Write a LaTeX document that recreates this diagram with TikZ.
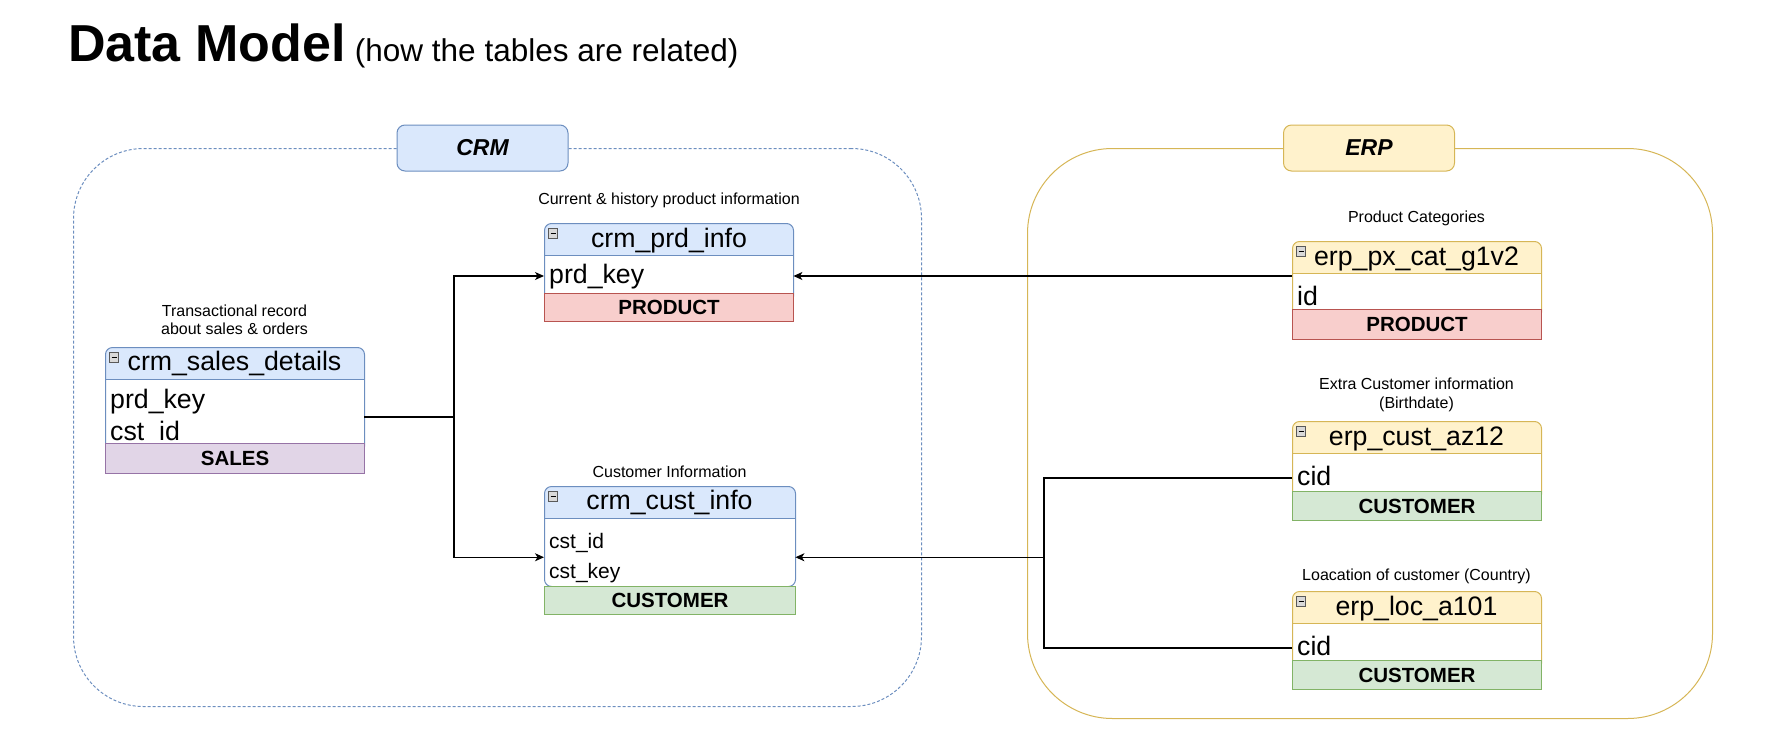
\documentclass[tikz,border=0pt]{standalone}
\usepackage{fontspec}
\setmainfont{Liberation Sans}
\usepackage{xcolor}
\usepackage{tikz}
\usetikzlibrary{positioning, calc, arrows.meta}

\definecolor{crmfill}{HTML}{DAE8FC}
\definecolor{crmline}{HTML}{6C8EBF}
\definecolor{erpfill}{HTML}{FFF2CC}
\definecolor{erpline}{HTML}{D6B656}
\definecolor{prodfill}{HTML}{F8CECC}
\definecolor{prodline}{HTML}{B85450}
\definecolor{custfill}{HTML}{D5E8D4}
\definecolor{custline}{HTML}{82B366}
\definecolor{salesfill}{HTML}{E1D5E7}
\definecolor{salesline}{HTML}{9673A6}

\begin{document}
\begin{tikzpicture}[x=1pt, y=-1pt,
    crmframe/.style={draw=crmline, line width=1pt, dash pattern=on 3pt off 2pt, rounded corners=70pt, anchor=north west, inner sep=0pt},
    erpframe/.style={draw=erpline, line width=1pt, rounded corners=85pt, anchor=north west, inner sep=0pt},
    tag/.style 2 args={draw=#2, fill=#1, line width=1pt, rounded corners=8pt, minimum width=171pt, minimum height=46pt, inner sep=0pt, font=\bfseries\itshape\fontsize{23}{26}\selectfont},
    caption/.style={inner sep=0pt, align=center, font=\fontsize{16}{18.5}\selectfont},
    tblbody/.style 2 args={draw=#1, fill=white, line width=1pt, rounded corners=7pt, anchor=north west, inner sep=0pt,
      path picture={\fill[#2, sharp corners] (path picture bounding box.north west) rectangle ([yshift=-32pt]path picture bounding box.north east);
        \draw[#1, line width=1.2pt, sharp corners] ([yshift=-32pt]path picture bounding box.north west) -- ([yshift=-32pt]path picture bounding box.north east);}},
    icon/.style={draw=gray!70!black, fill=gray!30, line width=0.6pt, minimum width=9pt, minimum height=10pt, inner sep=0pt,
      path picture={\draw[black, line width=1pt] ([xshift=2pt]path picture bounding box.west) -- ([xshift=-2pt]path picture bounding box.east);}},
    tbltitle/.style={anchor=base, inner sep=0pt, font=\fontsize{26.7}{30}\selectfont},
    field/.style={anchor=base west, inner xsep=5pt, inner ysep=0pt, align=left, text height=20pt, text depth=6pt, font=\fontsize{26.7}{30}\selectfont},
    smallfield/.style={text height=16pt, text depth=4.5pt, font=\fontsize{21}{24}\selectfont},
    footer/.style 2 args={draw=#2, fill=#1, line width=1pt, anchor=north west, inner sep=0pt, font=\bfseries\fontsize{20.5}{24}\selectfont},
    link/.style={line width=1.1pt, black},
    arrow/.style={link, -{Stealth[length=9pt, width=8pt, inset=2.5pt]}}]

\useasboundingbox (0,0) rectangle (1768,750);

% Title
\node[anchor=base west, inner sep=0pt, font=\bfseries\fontsize{52}{60}\selectfont] (title) at (68,61) {Data Model};
\node[anchor=base west, inner sep=0pt, font=\fontsize{31.5}{36}\selectfont] (subtitle) at ([xshift=9pt]title.base east) {(how the tables are related)};

% Frames
\node[crmframe, minimum width=848pt, minimum height=558pt] (crm) at (73,148) {};
\node[erpframe, minimum width=685pt, minimum height=570pt] (erp) at (1027,148) {};
\node[tag={crmfill}{crmline}] (crmtag) at (482.5,148) {CRM};
\node[tag={erpfill}{erpline}] (erptag) at (1369,148) {ERP};

% crm_prd_info
\node[caption] (prdcap) at (669,200) {Current \& history product information};
\node[tblbody={crmline}{crmfill}, minimum width=249pt, minimum height=80pt] (prd) at (544,223) {};
\node[icon] (prdicon) at (553,233) {};
\node[tbltitle] (prdtitle) at (669,247) {crm\_prd\_info};
\node[field, text width=239pt] (prdkey) at (544,283) {prd\_key};
\node[footer={prodfill}{prodline}, minimum width=249pt, minimum height=28pt] (prdfoot) at (544,293) {PRODUCT};

% crm_sales_details
\node[caption] (salescap) at (234.5,320) {Transactional record\\about sales \& orders};
\node[tblbody={crmline}{crmfill}, minimum width=259pt, minimum height=106pt] (sales) at (105,347) {};
\node[icon] (salesicon) at (114,357) {};
\node[tbltitle] (salestitle) at (234.5,370) {crm\_sales\_details};
\node[field, text width=249pt] (saleskey) at (105,408) {prd\_key};
\node[field, text width=249pt] (salesid) at (105,440) {cst\_id};
\node[footer={salesfill}{salesline}, minimum width=259pt, minimum height=30pt] (salesfoot) at (105,443) {SALES};

% crm_cust_info
\node[caption] (custcap) at (669.5,472) {Customer Information};
\node[tblbody={crmline}{crmfill}, minimum width=251pt, minimum height=100pt] (cust) at (544,486) {};
\node[icon] (custicon) at (553,496) {};
\node[tbltitle] (custtitle) at (669.5,509) {crm\_cust\_info};
\node[field, smallfield, text width=241pt] (custid) at (544,548) {cst\_id};
\node[field, smallfield, text width=241pt] (custkey) at (544,578) {cst\_key};
\node[footer={custfill}{custline}, minimum width=251pt, minimum height=28pt] (custfoot) at (544,586) {CUSTOMER};

% erp_px_cat_g1v2
\node[caption] (pxcap) at (1416.5,218) {Product Categories};
\node[tblbody={erpline}{erpfill}, minimum width=249pt, minimum height=78pt] (px) at (1292,241) {};
\node[icon] (pxicon) at (1301,251) {};
\node[tbltitle] (pxtitle) at (1416.5,265) {erp\_px\_cat\_g1v2};
\node[field, text width=239pt] (pxid) at (1292,305) {id};
\node[footer={prodfill}{prodline}, minimum width=249pt, minimum height=30pt] (pxfoot) at (1292,309) {PRODUCT};

% erp_cust_az12
\node[caption] (azcap) at (1416.5,395) {Extra Customer information\\(Birthdate)};
\node[tblbody={erpline}{erpfill}, minimum width=249pt, minimum height=80pt] (az) at (1292,421) {};
\node[icon] (azicon) at (1301,431) {};
\node[tbltitle] (aztitle) at (1416.5,445) {erp\_cust\_az12};
\node[field, text width=239pt] (azcid) at (1292,485) {cid};
\node[footer={custfill}{custline}, minimum width=249pt, minimum height=29pt] (azfoot) at (1292,491) {CUSTOMER};

% erp_loc_a101
\node[caption] (loccap) at (1416.5,576) {Loacation of customer (Country)};
\node[tblbody={erpline}{erpfill}, minimum width=249pt, minimum height=79pt] (loc) at (1292,591) {};
\node[icon] (locicon) at (1301,601) {};
\node[tbltitle] (loctitle) at (1416.5,615) {erp\_loc\_a101};
\node[field, text width=239pt] (loccid) at (1292,655) {cid};
\node[footer={custfill}{custline}, minimum width=249pt, minimum height=29pt] (locfoot) at (1292,660) {CUSTOMER};

% Connectors
\coordinate (salesout) at ($(saleskey.east)!0.5!(salesid.east)$);
\coordinate (salesbus) at (454,0 |- salesout);
\coordinate (custinL) at ($(custid.west)!0.5!(custkey.west)$);
\coordinate (custinR) at ($(custid.east)!0.5!(custkey.east)$);
\coordinate (erpbus) at (1044,0 |- custinR);

\draw[link] (salesout) -- (salesbus);
\draw[arrow] (salesbus) |- (prdkey.west);
\draw[arrow] (salesbus) |- (custinL);
\draw[arrow] (pxid.west |- prdkey.east) -- (prdkey.east);
\draw[link] (azcid.west) -| (erpbus) |- (loccid.west);
\draw[arrow] (erpbus) -- (custinR);
\end{tikzpicture}
\end{document}
